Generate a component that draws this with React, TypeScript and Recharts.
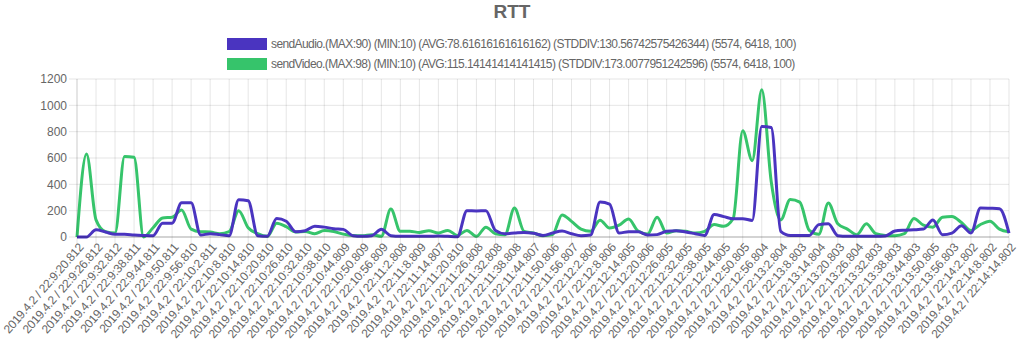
import { LineChart, Line, XAxis, YAxis, CartesianGrid } from 'recharts'

/* ── Data ── */

const TICK_LABELS = [
  '2019.4.2 / 22:9:20.812', '2019.4.2 / 22:9:26.812', '2019.4.2 / 22:9:32.812', '2019.4.2 / 22:9:38.811',
  '2019.4.2 / 22:9:44.811', '2019.4.2 / 22:9:50.811', '2019.4.2 / 22:9:56.810', '2019.4.2 / 22:10:2.811',
  '2019.4.2 / 22:10:8.810', '2019.4.2 / 22:10:14.810', '2019.4.2 / 22:10:20.810', '2019.4.2 / 22:10:26.810',
  '2019.4.2 / 22:10:32.810', '2019.4.2 / 22:10:38.810', '2019.4.2 / 22:10:44.809', '2019.4.2 / 22:10:50.809',
  '2019.4.2 / 22:10:56.809', '2019.4.2 / 22:11:2.808', '2019.4.2 / 22:11:8.809', '2019.4.2 / 22:11:14.807',
  '2019.4.2 / 22:11:20.810', '2019.4.2 / 22:11:26.808', '2019.4.2 / 22:11:32.808', '2019.4.2 / 22:11:38.808',
  '2019.4.2 / 22:11:44.807', '2019.4.2 / 22:11:50.806', '2019.4.2 / 22:11:56.807', '2019.4.2 / 22:12:2.806',
  '2019.4.2 / 22:12:8.806', '2019.4.2 / 22:12:14.805', '2019.4.2 / 22:12:20.806', '2019.4.2 / 22:12:26.805',
  '2019.4.2 / 22:12:32.805', '2019.4.2 / 22:12:38.805', '2019.4.2 / 22:12:44.805', '2019.4.2 / 22:12:50.805',
  '2019.4.2 / 22:12:56.804', '2019.4.2 / 22:13:2.804', '2019.4.2 / 22:13:8.803', '2019.4.2 / 22:13:14.804',
  '2019.4.2 / 22:13:20.803', '2019.4.2 / 22:13:26.804', '2019.4.2 / 22:13:32.803', '2019.4.2 / 22:13:38.803',
  '2019.4.2 / 22:13:44.803', '2019.4.2 / 22:13:50.805', '2019.4.2 / 22:13:56.803', '2019.4.2 / 22:14:2.802',
  '2019.4.2 / 22:14:8.802', '2019.4.2 / 22:14:14.802',
]

// 99 samples, every other one carries a visible label
const SEND_AUDIO = [
  0, 0, 55, 38, 20, 20, 15, 12, 10, 105,
  105, 260, 260, 15, 25, 18, 10, 283, 275, 10,
  5, 140, 120, 40, 48, 82, 75, 63, 58, 10,
  5, 10, 58, 10, 5, 5, 5, 5, 8, 5,
  2, 200, 198, 200, 50, 25, 30, 35, 28, 12,
  30, 45, 25, 10, 15, 265, 250, 30, 40, 40,
  15, 18, 43, 48, 38, 25, 12, 170, 155, 139,
  139, 126, 840, 832, 43, 12, 12, 12, 94, 101,
  10, 5, 5, 5, 5, 8, 45, 52, 55, 60,
  130, 18, 30, 86, 30, 220, 218, 215, 30,
]

const SEND_VIDEO = [
  0, 630, 130, 40, 30, 612, 605, 0, 70, 145,
  150, 205, 60, 40, 38, 25, 40, 200, 70, 25,
  5, 105, 78, 38, 42, 25, 50, 42, 22, 12,
  10, 18, 5, 212, 43, 43, 35, 48, 30, 50,
  12, 50, 5, 75, 25, 18, 220, 43, 30, 10,
  18, 168, 119, 60, 43, 128, 68, 90, 137, 45,
  23, 150, 30, 48, 43, 30, 43, 94, 81, 140,
  807, 580, 1118, 420, 130, 285, 265, 50, 20, 258,
  100, 60, 18, 100, 25, 12, 10, 25, 140, 90,
  75, 150, 155, 110, 50, 95, 120, 60, 40,
]

const Y_TICKS = [0, 200, 400, 600, 800, 1000, 1200]

const SERIES = [
  {
    key: 'video',
    color: '#36c46b',
    label: 'sendVideo.(MAX:98) (MIN:10) (AVG:115.14141414141415) (STDDIV:173.0077951242596) (5574, 6418, 100)',
  },
  {
    key: 'audio',
    color: '#4a34c0',
    label: 'sendAudio.(MAX:90) (MIN:10) (AVG:78.61616161616162) (STDDIV:130.56742575426344) (5574, 6418, 100)',
  },
]

const FONT = '"Liberation Sans", Arial, sans-serif'
const GRID = 'rgba(0,0,0,0.1)'

const data = SEND_AUDIO.map((a, i) => ({ idx: i, audio: a, video: SEND_VIDEO[i] }))
const xTicks = TICK_LABELS.map((_, i) => i * 2)

function XTick({ x, y, payload }: any) {
  const label = TICK_LABELS[payload.value / 2]
  const px = x + 4
  return (
    <text
      x={px}
      y={y}
      transform={`rotate(-49, ${px}, ${y})`}
      textAnchor="end"
      dy="0.35em"
      fill="#666"
      fontSize={12}
      letterSpacing={-0.25}
      fontFamily={FONT}
    >
      {label}
    </text>
  )
}

export default function App() {
  const legendRows = [SERIES[1], SERIES[0]]
  return (
    <div style={{ position: 'absolute', left: 0, top: 0, width: 1024, height: 357, fontFamily: FONT, background: '#fff' }}>
      <div style={{ position: 'absolute', left: 0, width: 1024, top: 1, textAlign: 'center', fontSize: 19, fontWeight: 'bold', color: '#666' }}>
        RTT
      </div>
      {legendRows.map((s, i) => (
        <div key={s.key} style={{ position: 'absolute', left: 227, top: 37 + i * 20, display: 'flex', alignItems: 'center', fontSize: 12, letterSpacing: -0.6, color: '#666', whiteSpace: 'nowrap' }}>
          <span style={{ display: 'inline-block', width: 40, height: 12, background: s.color, marginRight: 4 }} />
          {s.label}
        </div>
      ))}
      <LineChart width={1024} height={357} data={data} margin={{ top: 79, right: 15, left: 0, bottom: 0 }}>
        <CartesianGrid stroke={GRID} />
        <XAxis
          dataKey="idx"
          type="number"
          domain={[0, SEND_AUDIO.length - 1]}
          ticks={xTicks}
          interval={0}
          height={120}
          tickSize={8}
          tickMargin={0}
          tickLine={{ stroke: GRID }}
          axisLine={{ stroke: 'rgba(0,0,0,0.25)' }}
          tick={<XTick />}
        />
        <YAxis
          domain={[0, 1200]}
          ticks={Y_TICKS}
          width={77}
          tickSize={8}
          tickMargin={2}
          tickLine={{ stroke: GRID }}
          axisLine={{ stroke: GRID }}
          tick={{ fill: '#666', fontSize: 12, fontFamily: FONT }}
        />
        {SERIES.map(s => (
          <Line
            key={s.key}
            type="monotone"
            dataKey={s.key}
            stroke={s.color}
            strokeWidth={3}
            dot={false}
            isAnimationActive={false}
          />
        ))}
      </LineChart>
    </div>
  )
}
